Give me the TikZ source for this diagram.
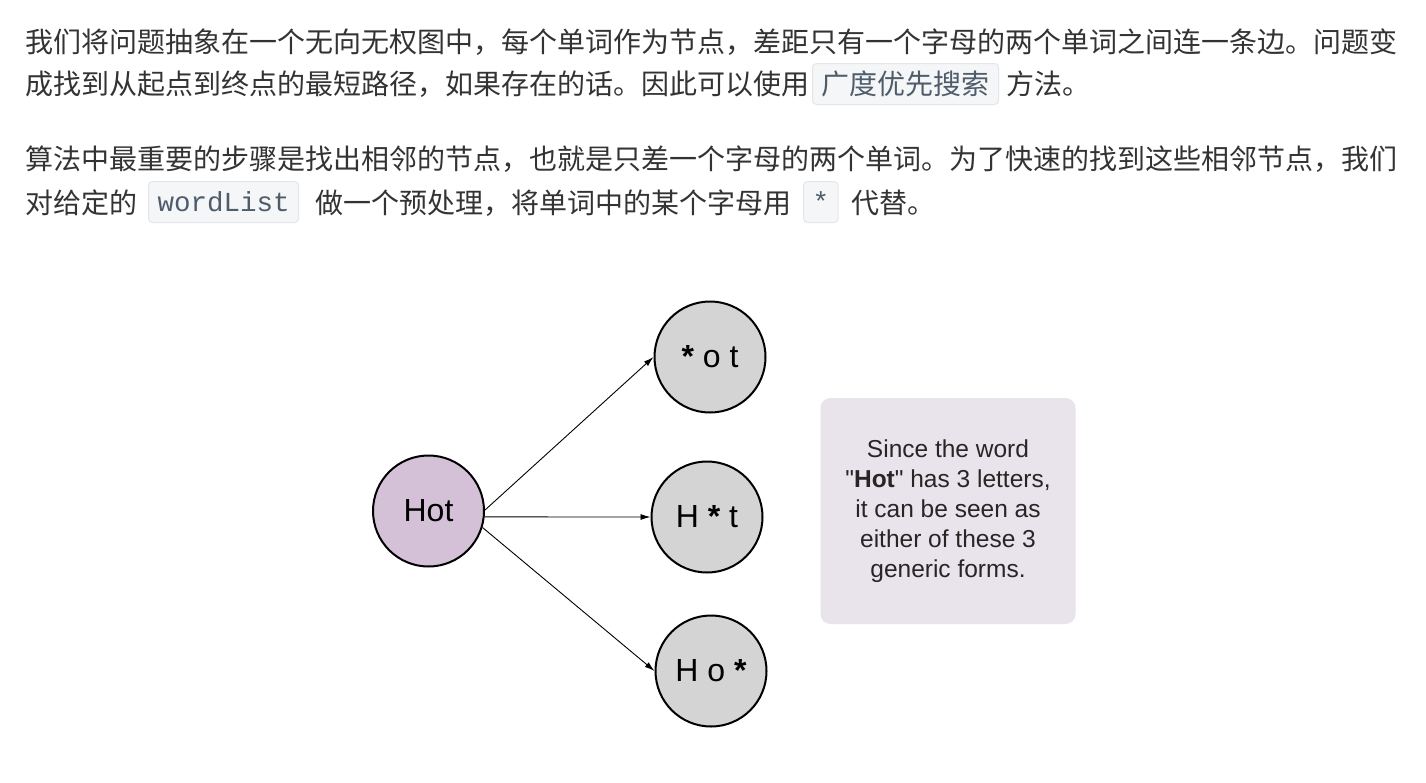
\documentclass[tikz,border=0pt]{standalone}
\usepackage{fontspec}
\setmainfont{Liberation Sans}[Ligatures=TeXOff]
\newfontfamily\cjk{Noto Sans CJK SC}
\newfontfamily\codemono{Liberation Mono}
\usetikzlibrary{arrows.meta}

\definecolor{bodytext}{HTML}{333333}
\definecolor{codetext}{HTML}{4F5D6B}
\definecolor{codefill}{HTML}{F5F6F8}
\definecolor{codeline}{HTML}{E3E6EA}
\definecolor{startfill}{HTML}{D4C1D7}
\definecolor{formfill}{HTML}{D4D4D4}
\definecolor{notefill}{HTML}{E9E4EB}

\tikzset{
  para/.style={anchor=west, inner sep=0pt, text=bodytext, font=\cjk\fontsize{28}{34}\selectfont},
  codebox/.style={anchor=west, draw=codeline, fill=codefill, line width=1pt, rounded corners=4pt,
    minimum height=41pt, inner xsep=9pt, inner ysep=0pt, text=codetext},
  word/.style={circle, draw=black, line width=2pt, minimum size=111pt, inner sep=0pt,
    font=\fontsize{32}{38}\selectfont},
  link/.style={-{Latex[length=10pt,width=6pt]}, line width=0.9pt},
}

\begin{document}
\begin{tikzpicture}[x=1pt, y=-1pt]
  \useasboundingbox[fill=white] (0,0) rectangle (1426,782);

  % paragraph one
  \node[para] (p1) at (25,42) {我们将问题抽象在一个无向无权图中，每个单词作为节点，差距只有一个字母的两个单词之间连一条边。问题变};
  \node[para] (p2a) at (25,84) {成找到从起点到终点的最短路径，如果存在的话。因此可以使用};
  \node[codebox, font=\cjk\fontsize{28}{34}\selectfont] (bfs) at (812,84) {广度优先搜索};
  \node[para] (p2b) at (1006,84) {方法。};

  % paragraph two
  \node[para] (p3) at (25,159) {算法中最重要的步骤是找出相邻的节点，也就是只差一个字母的两个单词。为了快速的找到这些相邻节点，我们};
  \node[para] (p4a) at (25,203) {对给定的};
  \node[codebox, font=\codemono\fontsize{27.5}{34}\selectfont] (wl) at (148,202) {wordList};
  \node[para] (p4b) at (315,203) {做一个预处理，将单词中的某个字母用};
  \node[codebox, font=\codemono\fontsize{27.5}{34}\selectfont] (star) at (803,202) {*};
  \node[para] (p4c) at (851,203) {代替。};

  % graph
  \node[word, fill=startfill] (hot) at (428.5,511) {Hot};
  \node[word, fill=formfill] (f1) at (710,357) {{\bfseries *} o t};
  \node[word, fill=formfill] (f2) at (707,517) {H {\bfseries *} t};
  \node[word, fill=formfill] (f3) at (711,671) {H o {\bfseries *}};

  \draw[link] (hot.1) -- (f1.west);
  \draw[link] (hot.-6) -- (f2.west);
  \draw[link] (hot.-17) -- (f3.west);

  % note
  \node[fill=notefill, rounded corners=10pt, minimum width=255pt, minimum height=226pt,
    align=center, font=\fontsize{24.5}{30}\selectfont, text=black!85] (note) at (948,511)
    {Since the word\\"\textbf{Hot}" has 3 letters,\\it can be seen as\\either of these 3\\generic forms.};
\end{tikzpicture}
\end{document}
